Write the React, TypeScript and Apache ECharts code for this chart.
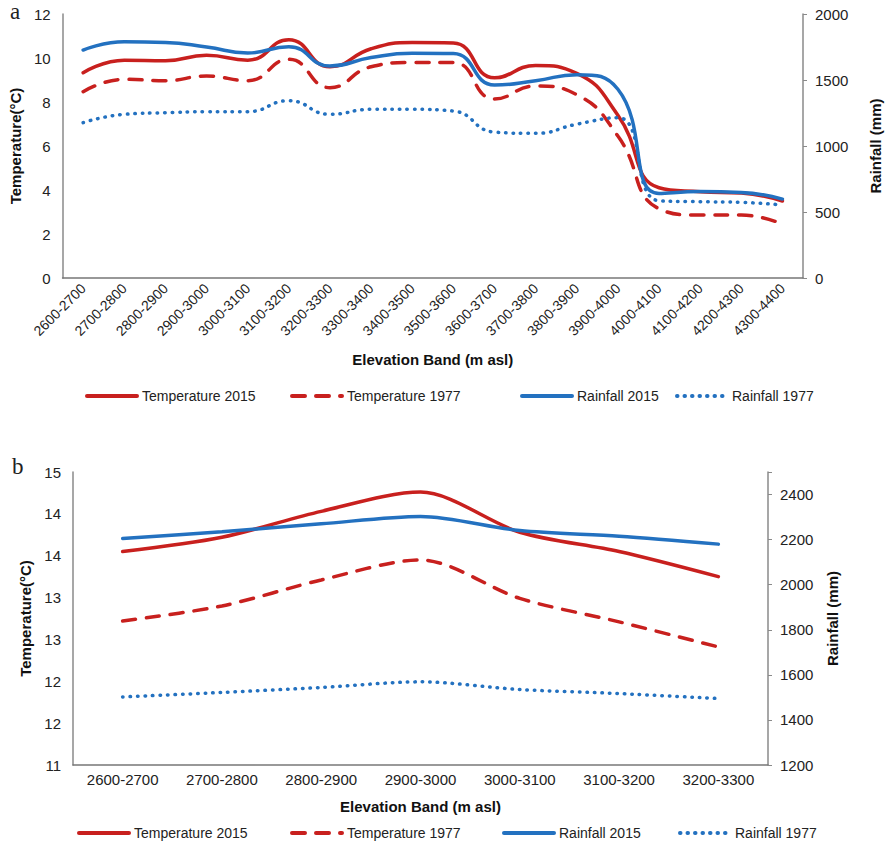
import React, { useEffect, useRef } from "react";
import * as echarts from "echarts";

// Elevation bands (m asl)
const elevA = [
  "2600-2700", "2700-2800", "2800-2900", "2900-3000", "3000-3100", "3100-3200",
  "3200-3300", "3300-3400", "3400-3500", "3500-3600", "3600-3700", "3700-3800",
  "3800-3900", "3900-4000", "4000-4100", "4100-4200", "4200-4300", "4300-4400",
];
const elevB = ["2600-2700", "2700-2800", "2800-2900", "2900-3000", "3000-3100", "3100-3200", "3200-3300"];

// Panel a: mean temperature (°C) and rainfall (mm) per band
const tempA2015 = [9.33, 9.9, 9.88, 10.12, 9.9, 10.83, 9.6, 10.42, 10.7, 10.68, 9.1, 9.66, 9.3, 7.4, 4.1, 3.92, 3.86, 3.5];
const tempA1977 = [8.47, 9.03, 8.97, 9.18, 8.97, 9.94, 8.65, 9.6, 9.8, 9.8, 8.14, 8.73, 8.33, 6.45, 3.15, 2.86, 2.86, 2.45];
const rainA2015 = [1727, 1790, 1785, 1750, 1705, 1752, 1606, 1670, 1702, 1700, 1462, 1495, 1540, 1430, 640, 655, 648, 598];
const rainA1977 = [1177, 1240, 1252, 1260, 1260, 1343, 1240, 1278, 1278, 1265, 1105, 1096, 1165, 1215, 585, 578, 573, 553];

// Panel b
const tempB2015 = [13.55, 13.72, 14.03, 14.26, 13.78, 13.55, 13.25];
const tempB1977 = [12.72, 12.9, 13.21, 13.45, 12.99, 12.71, 12.41];
const rainB2015 = [2205, 2235, 2270, 2303, 2240, 2215, 2180];
const rainB1977 = [1502, 1522, 1544, 1569, 1535, 1517, 1495];

const seriesNames = ["Temperature 2015", "Temperature 1977", "Rainfall 2015", "Rainfall 1977"];

const RED = "#c8201e";
const BLUE = "#2371c0";
const AXIS = "#8a8a8a";
const TEXT = "#222";
const FONT = '"Liberation Sans", Arial, sans-serif';

const styles = [
  { color: RED, type: "solid" as any },
  { color: RED, type: [13, 11] as any },
  { color: BLUE, type: "solid" as any },
  { color: BLUE, type: [0.5, 7] as any },
];

function makeSeries(values: number[][], xIdx: number, tempAxis: number, rainAxis: number, smooth: number) {
  return values.map((data, i) => ({
    name: seriesNames[i],
    type: "line",
    xAxisIndex: xIdx,
    yAxisIndex: i < 2 ? tempAxis : rainAxis,
    data,
    smooth,
    symbol: "none",
    lineStyle: { color: styles[i].color, width: 3.5, type: styles[i].type, cap: "round" },
    itemStyle: { color: styles[i].color },
  }));
}

// One legend component per entry so each sample can sit at its own x
function makeLegends(top: number, lefts: number[]) {
  return seriesNames.map((n, i) => ({
    data: [n],
    left: lefts[i],
    top,
    padding: 0,
    itemWidth: 50,
    itemHeight: 14,
    selectedMode: false,
    itemStyle: { opacity: 0 },
    lineStyle: { width: 4 },
    textStyle: { fontSize: 14, color: TEXT, fontFamily: FONT },
  }));
}

function categoryAxis(gridIndex: number, data: string[], rotate: number, fontSize: number, margin: number, nameGap: number) {
  return {
    gridIndex,
    type: "category",
    data,
    boundaryGap: true,
    axisLine: { lineStyle: { color: "#777", width: 1.5 } },
    axisTick: { show: false },
    axisLabel: { rotate, fontSize, color: TEXT, margin, interval: 0, fontFamily: FONT },
    name: "Elevation Band (m asl)",
    nameLocation: "middle",
    nameGap,
    nameTextStyle: { fontWeight: "bold", fontSize: 15, color: "#111", fontFamily: FONT },
  };
}

function valueAxis(
  gridIndex: number, position: string, min: number, max: number, interval: number,
  name: string, nameGap: number, formatter: (v: number) => string
) {
  return {
    gridIndex,
    type: "value",
    position,
    min,
    max,
    interval,
    axisLine: { show: true, lineStyle: { color: AXIS, width: 1.5 } },
    axisTick: { show: position === "right", length: 4, lineStyle: { color: AXIS } },
    splitLine: { show: false },
    axisLabel: { fontSize: 15, color: TEXT, margin: 12, fontFamily: FONT, formatter },
    name,
    nameLocation: "middle",
    nameGap,
    nameRotate: 90,
    nameTextStyle: { fontWeight: "bold", fontSize: 15, color: "#111", fontFamily: FONT },
  };
}

const plain = (v: number) => String(v);

export default function App() {
  const ref = useRef<HTMLDivElement>(null);

  useEffect(() => {
    if (!ref.current) return;
    const chart = echarts.init(ref.current, undefined, { renderer: "svg" });
    chart.setOption({
      animation: false,
      backgroundColor: "#fff",
      textStyle: { fontFamily: FONT },
      grid: [
        { left: 60, top: 14, width: 758, height: 264 },
        { left: 73, top: 472, width: 695, height: 293 },
      ],
      xAxis: [
        categoryAxis(0, elevA, 45, 14, 8, 74),
        categoryAxis(1, elevB, 0, 15, 7, 34),
      ],
      yAxis: [
        valueAxis(0, "left", 0, 12, 2, "Temperature(°C)", 38, plain),
        valueAxis(0, "right", 0, 2000, 500, "Rainfall (mm)", 65, plain),
        valueAxis(1, "left", 11, 14.5, 0.5, "Temperature(°C)", 35, (v: number) => String(Math.round(v))),
        valueAxis(1, "right", 1200, 2500, 200, "Rainfall (mm)", 57, (v: number) => (v >= 2500 ? "" : String(v))),
      ],
      legend: [
        ...makeLegends(389, [85, 290, 520, 675]),
        ...makeLegends(826, [77, 290, 502, 678]),
      ],
      graphic: [
        { type: "text", left: 10, top: 0, style: { text: "a", font: '23px "Liberation Serif", serif', fill: TEXT } },
        { type: "text", left: 12, top: 455, style: { text: "b", font: '23px "Liberation Serif", serif', fill: TEXT } },
      ],
      series: [
        ...makeSeries([tempA2015, tempA1977, rainA2015, rainA1977], 0, 0, 1, 0.5),
        ...makeSeries([tempB2015, tempB1977, rainB2015, rainB1977], 1, 2, 3, 0.3),
      ],
    });
    return () => chart.dispose();
  }, []);

  return (
    <div
      ref={ref}
      style={{ position: "absolute", left: 0, top: 0, width: 891, height: 848, background: "#fff" }}
    />
  );
}
